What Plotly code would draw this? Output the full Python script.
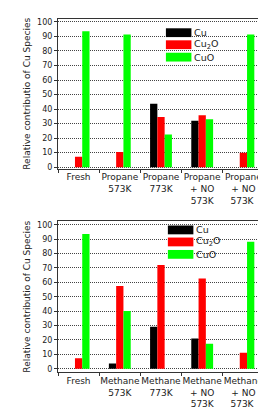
import plotly.graph_objects as go
from plotly.subplots import make_subplots

# ---- data ----
cats_top = ["Fresh", "Propane<br>573K", "Propane<br>773K", "Propane<br>+ NO<br>573K", "Propane<br>+ NO<br>573K "]
cu_top = [0, 0, 43.6, 32.0, 0]
cu2o_top = [7.2, 10.4, 34.5, 35.8, 9.9]
cuo_top = [93.5, 91.3, 22.4, 32.9, 91.3]

cats_bot = ["Fresh", "Methane<br>573K", "Methane<br>773K", "Methane<br>+ NO<br>573K", "Methane<br>+ NO<br>573K "]
cu_bot = [0, 3.6, 29.1, 20.9, 0]
cu2o_bot = [7.3, 57.5, 72.0, 62.7, 11.1]
cuo_bot = [93.6, 40.0, 0, 17.3, 88.2]

yticks = [0, 10, 20, 30, 40, 50, 60, 70, 80, 90, 100]
series_names = ["Cu", "Cu<sub>2</sub>O", "CuO"]
colors = ["#000000", "#ff0000", "#00ff00"]

W, H = 266, 407
L, R, T, B = 50, 6, 11, 35
ph = H - T - B

def py2paper(py):
    return 1 - (py - T) / ph

def px2paper(px):
    return (px - L) / (W - L - R)

top_dom = [py2paper(164), py2paper(11)]
bot_dom = [py2paper(372), py2paper(218)]

fig = make_subplots(rows=2, cols=1)

font = dict(family="DejaVu Sans", size=8, color="#222")

for row, cats, vals in [(1, cats_top, [cu_top, cu2o_top, cuo_top]),
                        (2, cats_bot, [cu_bot, cu2o_bot, cuo_bot])]:
    for name, v, c in zip(series_names, vals, colors):
        fig.add_trace(go.Bar(x=cats, y=v, name=name, marker=dict(color=c, line=dict(width=0)),
                             showlegend=False), row=row, col=1)

fig.update_layout(
    width=W, height=H, margin=dict(l=L, r=R, t=T, b=B),
    paper_bgcolor="white", plot_bgcolor="white",
    barmode="group", bargap=0.47, bargroupgap=0,
    font=font,
)

fig.update_yaxes(domain=top_dom, row=1, col=1, range=[-1, 102])
fig.update_yaxes(domain=bot_dom, row=2, col=1, range=[-2.3, 102.3])
fig.update_yaxes(tickvals=yticks, showgrid=True, gridcolor="#444", griddash="1px,1px", gridwidth=1,
                 zeroline=False, showline=True, linecolor="#333", linewidth=1, mirror="ticks",
                 ticks="outside", ticklen=3, tickcolor="#333", tickfont=dict(size=8, color="#222"),
                 title=dict(text="Relative contributio of Cu Species", font=dict(size=9, color="#222"), standoff=4))
fig.update_xaxes(type="category", tickson="boundaries", ticks="outside", ticklen=3, tickcolor="#333",
                 showline=True, linecolor="#333", linewidth=1, mirror=True, showgrid=False,
                 tickangle=0, tickfont=dict(size=9, color="#222"))

# custom legends (wide swatches)
shapes = []
annotations = []
for ys, x0 in [([25, 37.3, 50], 160), ([226.7, 239, 251.7], 162)]:
    for yc, name, c in zip(ys, series_names, colors):
        shapes.append(dict(type="rect", xref="paper", yref="paper",
                           x0=px2paper(x0), x1=px2paper(x0 + 26),
                           y0=py2paper(yc + 4.5), y1=py2paper(yc - 4.5),
                           fillcolor=c, line=dict(width=0)))
        annotations.append(dict(xref="paper", yref="paper", x=px2paper(x0 + 27), y=py2paper(yc),
                                text=name, showarrow=False, xanchor="left", yanchor="middle",
                                font=dict(size=9.5, color="#222")))
fig.update_layout(shapes=shapes, annotations=annotations)

fig.write_html("out.html")
